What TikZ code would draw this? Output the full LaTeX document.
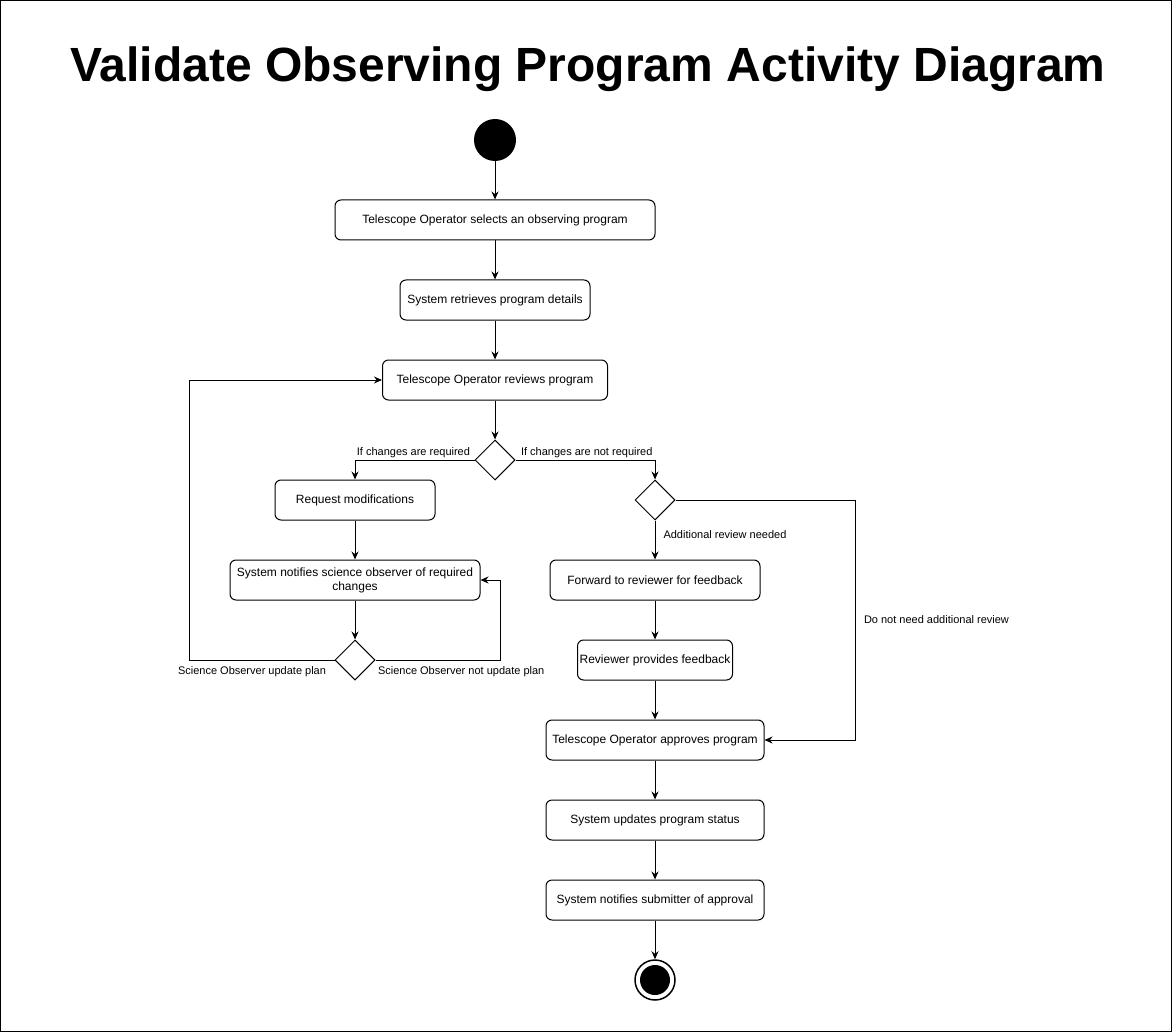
\documentclass[tikz,border=0pt]{standalone}
\usepackage{fontspec}
\setmainfont{Liberation Sans}
\usetikzlibrary{arrows.meta,shapes.geometric}

\begin{document}
\begin{tikzpicture}[
x=1pt, y=-1pt,
action/.style={draw, rounded corners=6pt, minimum height=40pt, inner sep=2pt, line width=1pt, font=\fontsize{12}{14}\selectfont},
decision/.style={draw, diamond, minimum width=40pt, minimum height=40pt, inner sep=0pt, line width=1pt},
flow/.style={-{Stealth[length=8pt,width=7pt]}, line width=1pt},
guard/.style={font=\fontsize{11}{13}\selectfont, inner sep=2pt},
frame/.style={line width=1pt}
]

%% Page
\useasboundingbox (0,0) rectangle (1172,1032);
\draw[frame] (0.5,0.5) rectangle (1171.5,1031.5);

\node[font=\fontsize{48}{56}\selectfont\bfseries] (title) at (588,69) {Validate Observing Program Activity Diagram};

% % Main column
\node[circle, fill, minimum size=42pt, inner sep=0pt] (start) at (495,140) {};
\node[action, minimum width=320pt] (select) at (495,220) {Telescope Operator selects an observing program};
\node[action, minimum width=190pt] (retrieve) at (495,300) {System retrieves program details};
\node[action, minimum width=225pt] (review) at (495,380) {Telescope Operator reviews program};
\node[decision] (dchange) at (495,460) {};

% % Changes required
\node[action, minimum width=160pt] (request) at (355,500) {Request modifications};
\node[action, minimum width=250pt, align=center] (notify) at (355,580) {System notifies science observer of required\\changes};
\node[decision] (dplan) at (355,660) {};

% % No changes
\node[decision] (dextra) at (655,500) {};
\node[action, minimum width=210pt] (forward) at (655,580) {Forward to reviewer for feedback};
\node[action, minimum width=155pt] (feedback) at (655,660) {Reviewer provides feedback};
\node[action, minimum width=218pt] (approve) at (655,740) {Telescope Operator approves program};
\node[action, minimum width=218pt] (status) at (655,820) {System updates program status};
\node[action, minimum width=218pt] (submit) at (655,900) {System notifies submitter of approval};
\node[circle, draw, line width=1.5pt, minimum size=40pt, inner sep=0pt] (stop) at (655,980) {};
\node[circle, fill, minimum size=30pt, inner sep=0pt] (stopdot) at (stop) {};

% % Flows
\draw[flow] (start) -- (select);
\draw[flow] (select) -- (retrieve);
\draw[flow] (retrieve) -- (review);
\draw[flow] (review) -- (dchange);

\draw[flow] (dchange.west) node[guard, anchor=south east, xshift=-2pt]{If changes are required} -| (request.north);
\draw[flow] (request) -- (notify);
\draw[flow] (notify) -- (dplan);
\draw[flow] (dplan.west) node[guard, anchor=north east, xshift=-6pt, yshift=-4pt]{Science Observer update plan} -- ++(-145,0) |- (review.west);
\draw[flow] (dplan.east) node[guard, anchor=north west, yshift=-4pt]{Science Observer not update plan} -- ++(125,0) |- (notify.east);

\draw[flow] (dchange.east) node[guard, anchor=south west, xshift=3pt]{If changes are not required} -| (dextra.north);
\draw[flow] (dextra.south) -- node[guard, pos=0.35, anchor=west, xshift=6pt]{Additional review needed} (forward.north);
\draw[flow] (forward) -- (feedback);
\draw[flow] (feedback) -- (approve);
\draw[flow] (dextra.east) -- ++(180,0) |- node[guard, pos=0.25, anchor=west, xshift=6pt]{Do not need additional review} (approve.east);
\draw[flow] (approve) -- (status);
\draw[flow] (status) -- (submit);
\draw[flow] (submit) -- (stop);

\end{tikzpicture}
\end{document}
